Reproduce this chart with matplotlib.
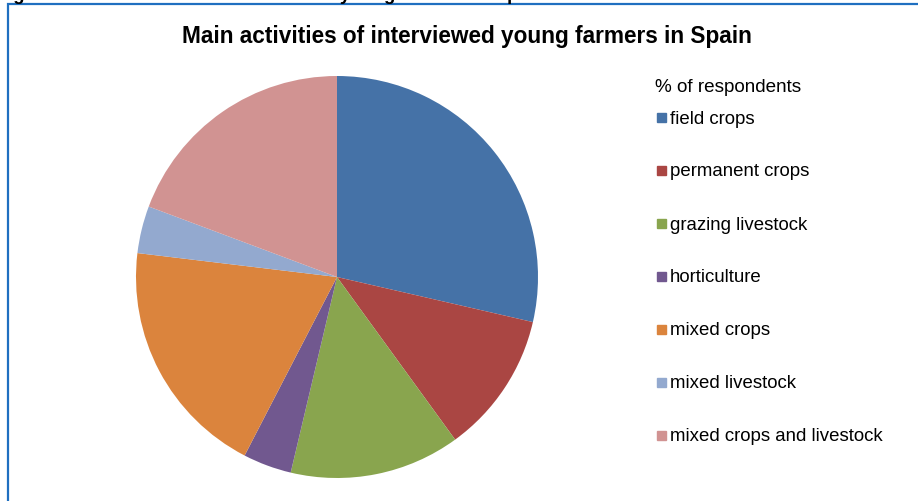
import matplotlib.pyplot as plt
from matplotlib.patches import Rectangle

# data: % of respondents
categories = ['field crops', 'permanent crops', 'grazing livestock', 'horticulture',
              'mixed crops', 'mixed livestock', 'mixed crops and livestock']
shares = [28.6, 11.4, 13.7, 3.9, 19.3, 3.8, 19.3]
colors = ['#4572A7', '#AA4643', '#89A54E', '#71588F', '#DB843D', '#93A9CF', '#D19392']

plt.rcParams['font.family'] = ['Liberation Sans', 'DejaVu Sans']

W, H = 918, 502
fig = plt.figure(figsize=(W / 100, H / 100), dpi=100)

def fx(px):
    return px / W

def fy(py):
    return 1 - py / H

# document caption above the chart, mostly cut off by the image edge
fig.text(fx(-3), fy(0), 'Figure 5: Main activities of interviewed young farmers in Spain',
         ha='left', va='baseline', fontsize=13.3, fontweight='bold')

# outer frame (chart border), right and bottom edges fall outside the image
fig.patches.append(Rectangle((fx(8), fy(H + 20)), fx(W + 20), fy(5) - fy(H + 20),
                             transform=fig.transFigure, fill=False,
                             edgecolor='#1F6FC0', linewidth=1.6))

# pie
cx, cy, r = 337, 278, 201
ax = fig.add_axes([fx(cx - r), fy(cy + r), fx(2 * r), (2 * r) / H])
ax.pie(shares, colors=colors, startangle=90, counterclock=False,
       wedgeprops=dict(linewidth=0))
ax.set_xlim(-1, 1)
ax.set_ylim(-1, 1)
ax.set_aspect('equal')
ax.axis('off')

# title
fig.text(fx(467), fy(37), 'Main activities of interviewed young farmers in Spain',
         ha='center', va='center', fontsize=16.3, fontweight='bold')

# legend
fig.text(fx(655), fy(87), '% of respondents', ha='left', va='center', fontsize=13.6)
for i, (lab, col) in enumerate(zip(categories, colors)):
    y = 118 + 53 * i
    fig.patches.append(Rectangle((fx(657), fy(y + 4.5)), fx(9), 9 / H,
                                 transform=fig.transFigure, color=col))
    fig.text(fx(670), fy(y + 1), lab, ha='left', va='center', fontsize=13.4)

fig.savefig('out.png', dpi=100)
